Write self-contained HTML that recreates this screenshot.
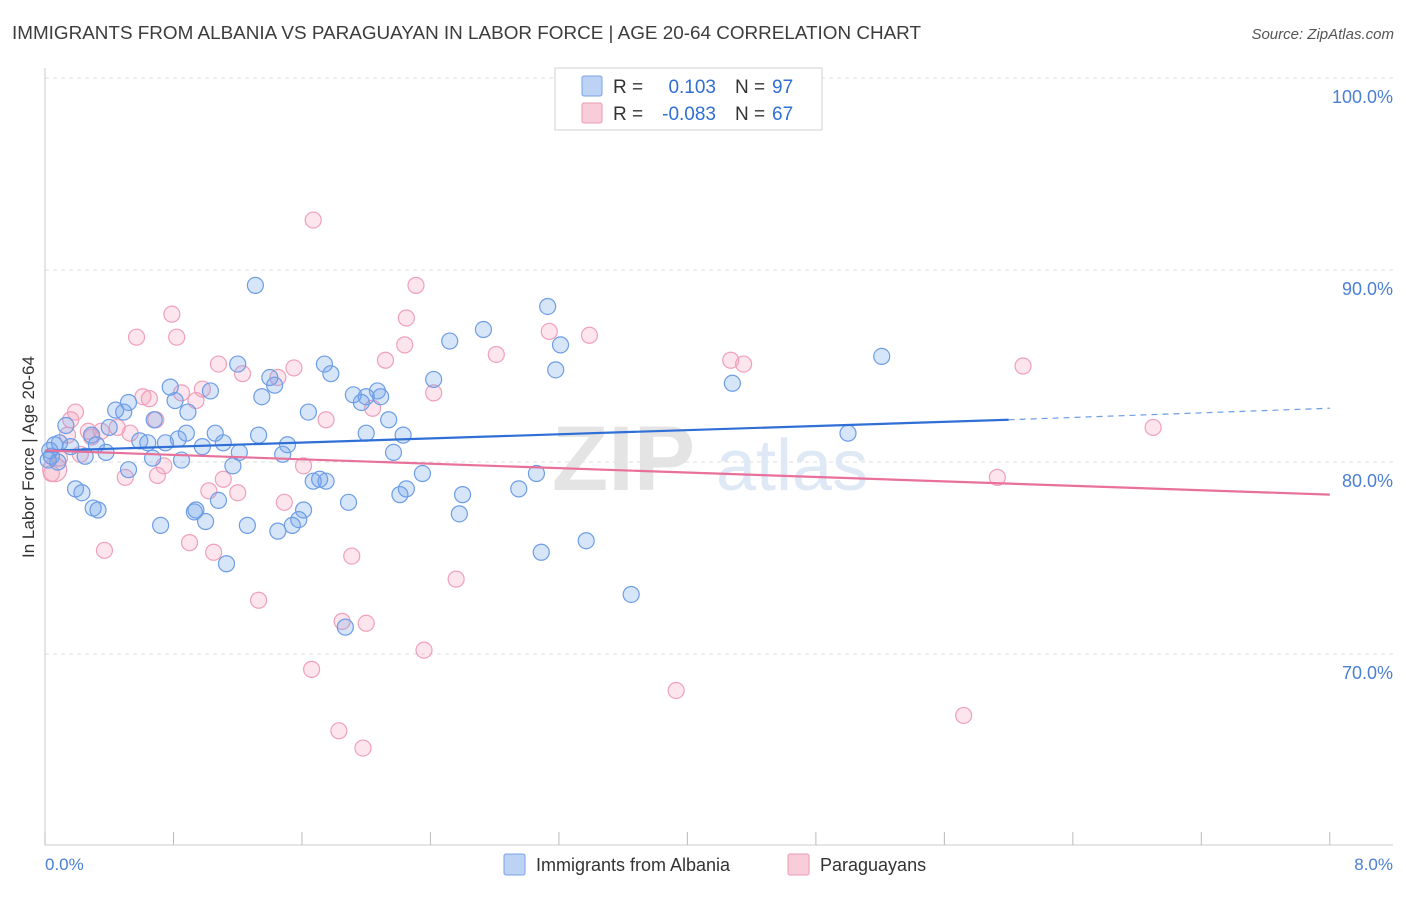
<!DOCTYPE html>
<html><head><meta charset="utf-8">
<style>
html,body{margin:0;padding:0;background:#fff;}
body{width:1406px;height:892px;overflow:hidden;font-family:"Liberation Sans",sans-serif;}
svg text{font-family:"Liberation Sans",sans-serif;}
</style></head>
<body>
<svg id="chart" width="1406" height="892" viewBox="0 0 1406 892">
<text x="12" y="39" font-size="18" fill="#3c3c3c" textLength="909" lengthAdjust="spacingAndGlyphs">IMMIGRANTS FROM ALBANIA VS PARAGUAYAN IN LABOR FORCE | AGE 20-64 CORRELATION CHART</text>
<text x="1394" y="39" font-size="15" fill="#555" font-style="italic" text-anchor="end">Source: ZipAtlas.com</text>
<g id="grid"></g>
<g>
<text x="552" y="490" font-size="92" fill="#e4e4e4" font-family="Liberation Serif" font-weight="bold">ZIP</text>
<text x="716" y="490" font-size="72" fill="#dfe8f5">atlas</text>
</g>
<line x1="45" y1="68" x2="45" y2="845" stroke="#ccc"/>
<line x1="45" y1="845" x2="1393" y2="845" stroke="#ccc"/>
<g id="ticks"></g>
<g id="pts"></g>
<g id="trend"></g>
<text transform="translate(34,457) rotate(-90)" font-size="17" fill="#333" text-anchor="middle">In Labor Force | Age 20-64</text>
<text x="45" y="870" font-size="17" fill="#4a7fd4">0.0%</text>
<text x="1393" y="870" font-size="17" fill="#4a7fd4" text-anchor="end">8.0%</text>
<g>
<rect x="555" y="68" width="267" height="62" fill="#fff" stroke="#d0d0d0"/>
<rect x="582" y="76" width="20" height="20" fill="#bcd3f5" stroke="#7aa3e6" rx="2"/>
<rect x="582" y="103" width="20" height="20" fill="#f8ccd9" stroke="#ee9ab5" rx="2"/>
<text x="613" y="93" font-size="19" fill="#333">R = </text><text x="716" y="93" font-size="19" fill="#2f6fd6" text-anchor="end">0.103</text>
<text x="735" y="93" font-size="19" fill="#333">N = </text><text x="772" y="93" font-size="19" fill="#2f6fd6">97</text>
<text x="613" y="120" font-size="19" fill="#333">R = </text><text x="716" y="120" font-size="19" fill="#2f6fd6" text-anchor="end">-0.083</text>
<text x="735" y="120" font-size="19" fill="#333">N = </text><text x="772" y="120" font-size="19" fill="#2f6fd6">67</text>
</g>
<g>
<rect x="504" y="854" width="21" height="21" fill="#bcd3f5" stroke="#7aa3e6" rx="2"/>
<text x="536" y="871" font-size="18" fill="#333">Immigrants from Albania</text>
<rect x="788" y="854" width="21" height="21" fill="#f8ccd9" stroke="#ee9ab5" rx="2"/>
<text x="820" y="871" font-size="18" fill="#333">Paraguayans</text>
</g>
</svg>
<script>
const yTicks=[100,90,80,70];
const yTickLabels=["100.0%","90.0%","80.0%","70.0%"];
const xTicks=[0,0.8,1.6,2.4,3.2,4.0,4.8,5.6,6.4,7.2,8.0];
const blueX=[1.31,3.13,2.73,2.52,3.21,5.21,1.20,1.74,3.18,1.78,1.40,2.42,4.28,1.43,0.78,1.03,2.07,1.92,2.00,1.35,2.09,0.52,0.81,1.97,0.44,0.49,0.89,1.64,2.14,0.68,0.40,0.13,0.29,0.88,1.06,2.00,1.33,2.23,5.00,0.83,0.09,0.59,0.64,0.75,1.11,0.32,0.98,1.51,0.06,0.38,1.21,2.17,1.48,0.25,0.67,0.85,1.17,0.52,2.35,3.06,1.67,1.75,1.71,0.19,0.23,2.25,2.95,2.60,2.21,1.89,0.30,0.33,0.94,0.93,1.08,1.61,1.58,1.00,2.58,0.72,1.26,1.54,1.45,3.37,3.09,1.13,3.65,1.87,0.02,0.04,0.08,0.16,0.03];
const blueY=[89.2,88.1,86.9,86.3,86.1,85.5,85.1,85.1,84.8,84.6,84.4,84.3,84.1,84.0,83.9,83.7,83.7,83.5,83.4,83.4,83.4,83.1,83.2,83.1,82.7,82.6,82.6,82.6,82.2,82.2,81.8,81.9,81.4,81.5,81.5,81.5,81.4,81.4,81.5,81.2,81.0,81.1,81.0,81.0,81.0,80.9,80.8,80.9,80.9,80.5,80.5,80.5,80.4,80.3,80.2,80.1,79.8,79.6,79.4,79.4,79.0,79.0,79.1,78.6,78.4,78.6,78.6,78.3,78.3,77.9,77.6,77.5,77.5,77.4,78.0,77.5,77.0,76.9,77.3,76.7,76.7,76.7,76.4,75.9,75.3,74.7,73.1,71.4,80.1,80.3,80.0,80.8,80.6];
const pinkX=[1.67,2.31,0.79,2.25,3.14,3.39,0.57,0.82,2.24,2.81,2.12,1.08,1.55,4.27,4.35,6.09,1.23,1.45,0.98,0.85,2.42,0.61,0.65,0.94,2.04,0.19,0.16,0.69,1.75,6.90,0.27,0.45,0.35,0.53,0.14,0.29,0.22,0.09,0.74,1.61,0.70,0.50,0.04,5.93,1.11,1.02,1.20,1.49,0.90,0.37,1.05,1.91,2.56,1.33,1.85,2.00,1.66,2.36,3.93,5.72,1.83,1.98,0.06];
const pinkY=[92.6,89.2,87.7,87.5,86.8,86.6,86.5,86.5,86.1,85.6,85.3,85.1,84.9,85.3,85.1,85.0,84.6,84.4,83.8,83.6,83.6,83.4,83.3,83.2,82.8,82.6,82.2,82.2,82.2,81.8,81.6,81.8,81.6,81.5,81.4,81.3,80.4,80.2,79.8,79.8,79.3,79.2,79.4,79.2,79.1,78.5,78.4,77.9,75.8,75.4,75.3,75.1,73.9,72.8,71.7,71.6,69.2,70.2,68.1,66.8,66.0,65.1,79.6];
const blueTrend=[80.58,82.2,82.8];
const pinkTrend=[80.6,78.3];
const NS="http://www.w3.org/2000/svg";
function xs(v){return 45+v*160.6;}
function ys(v){return 78+(100-v)*19.2;}
function mk(tag,attrs,parent){const e=document.createElementNS(NS,tag);for(const k in attrs)e.setAttribute(k,attrs[k]);parent.appendChild(e);return e;}
const grid=document.getElementById('grid');
yTicks.forEach((t,i)=>{
  const l=mk('line',{x1:45,x2:1393,y1:ys(t),y2:ys(t),stroke:'#ddd','stroke-dasharray':'4,4'},grid);
  
  
  const tx=mk('text',{x:1393,y:ys(t)+25,'font-size':18,fill:'#4a7fd4','text-anchor':'end'},grid);
  tx.textContent=yTickLabels[i];
  
  
});
const ticks=document.getElementById('ticks');
xTicks.forEach(t=>{
  const l=mk('line',{x1:xs(t),x2:xs(t),y1:832,y2:845,stroke:'#bbb'},ticks);
  
  
});
const pts=document.getElementById('pts');
pinkX.forEach((x,i)=>{
  const c=mk('circle',{cx:xs(x),cy:ys(pinkY[i]),r:(i==pinkX.length-1?12:8),fill:'rgba(244,160,188,0.28)',stroke:'#f0a0ba','stroke-width':1.2},pts);
  
  
});
blueX.forEach((x,i)=>{
  const c=mk('circle',{cx:xs(x),cy:ys(blueY[i]),r:8,fill:'rgba(110,160,235,0.28)',stroke:'#6d9de6','stroke-width':1.2},pts);
  
  
});
const tr=document.getElementById('trend');
const b1=mk('line',{x1:xs(0),y1:ys(blueTrend[0]),x2:xs(6),y2:ys(blueTrend[1]),stroke:'#2f6fd6','stroke-width':2.2},tr);


const b2=mk('line',{x1:xs(6),y1:ys(blueTrend[1]),x2:xs(8),y2:ys(blueTrend[2]),stroke:'#6d9de6','stroke-width':1.2,'stroke-dasharray':'6,5'},tr);


const p1=mk('line',{x1:xs(0),y1:ys(pinkTrend[0]),x2:xs(8),y2:ys(pinkTrend[1]),stroke:'#e8709a','stroke-width':2.2},tr);


</script>
</body></html>
